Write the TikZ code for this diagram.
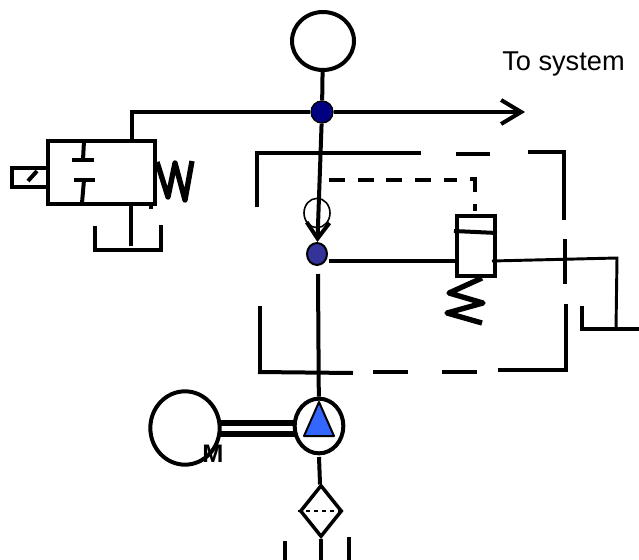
\documentclass[tikz,border=0pt]{standalone}
\usepackage{fontspec}
\setmainfont{Liberation Sans}
\usetikzlibrary{shapes.geometric, arrows.meta, positioning, calc}

\definecolor{ballblue}{HTML}{333399}
\definecolor{pumpblue}{HTML}{3366FF}
\definecolor{nodeblue}{HTML}{000080}

\tikzset{
  pipe/.style={line width=3pt, black},
  thinpipe/.style={line width=2.2pt, black},
  zigzag/.style={line width=4pt, line join=round, black},
  comp/.style={draw=black, line width=3pt, inner sep=0pt},
  round/.style={comp, ellipse},
  label/.style={inner sep=0pt}
}

\begin{document}
\begin{tikzpicture}[x=0.75pt, y=-0.75pt]
\useasboundingbox (0,0) rectangle (639,560);

% Main components
\node[round, minimum width=46.5pt, minimum height=43.5pt] (gauge) at (323,41) {};
\node[round, line width=1pt, fill=nodeblue, minimum width=16.5pt, minimum height=16.5pt] (junction) at (322,112) {};
\node[round, line width=1.2pt, minimum width=19.5pt, minimum height=22pt] (seat) at (317,213) {};
\node[round, line width=1.5pt, fill=ballblue, minimum width=15pt, minimum height=16.5pt] (ball) at (317,254) {};
\node[comp, minimum width=28.5pt, minimum height=45pt] (valve) at (476,246) {};
\node[round, minimum width=36.5pt, minimum height=41pt] (pump) at (319,426) {};
\node[round, minimum width=52pt, minimum height=55pt] (motor) at (185,428) {};
\node[comp, diamond, line width=2.6pt, minimum width=31.5pt, minimum height=39pt] (filter) at (321,511) {};
\node[comp, minimum width=80pt, minimum height=47pt] (cylinder) at (101.5,172.5) {};
\node[comp, line width=2.6pt, minimum width=27pt, minimum height=14pt] (stub) at (30,177.5) {};

% Free line ends
\coordinate (arrowend) at (525,112);
\coordinate (cylcorner) at (132,112);
\coordinate (cyltop) at (132,141);
\coordinate (cylbot) at (131,204);
\coordinate (cyltank) at (131,246);
\coordinate (ballout) at (318,274);
\coordinate (ballright) at (329,261);
\coordinate (valveout) at (492,261);
\coordinate (valvecorner) at (617,258);
\coordinate (valvetank) at (616,329);
\coordinate (pumpout) at (319,457);
\coordinate (filterout) at (321,560);

% Pressure line
\draw[pipe] (gauge) -- (junction);
\draw[pipe, -{Straight Barb[length=15pt, width=18pt]}] (junction) -- (arrowend);
\draw[pipe] (junction) -- (cylcorner) -- (cyltop);
\draw[pipe, -{Straight Barb[length=12pt, width=17pt]}] (junction) -- (ball);
\draw[pipe] (ballout) -- (pump);
\draw[pipe] (ballright) -- (ballright -| valve.west);
\draw[thinpipe] (valveout) -- (valvecorner) -- (valvetank);
\draw[pipe] (pumpout) -- (filter);
\draw[pipe] (filter) -- (filterout);

% Cylinder details
\draw[pipe] (84,141) -- (83,160);
\draw[pipe] (72,160) -- (94,160);
\draw[pipe] (74,180) -- (95,180);
\draw[pipe] (84,180) -- (82,203);
\draw[pipe] (28,181) -- (37,171);
\draw[zigzag] (157,162) -- (168,197) -- (175,163) -- (185,200) -- (192,161);
\draw[pipe] (151,204) -- (151,209);
\draw[pipe] (cylbot) -- (cyltank);
\draw[pipe] (95,226) -- (95,250) -- (161,250) -- (161,225);

% Dashed enclosure
\draw[pipe] (257,207) -- (257,153) -- (421,153);
\draw[pipe] (456,154) -- (490,154);
\draw[pipe] (528,152) -- (564,152) -- (564,220);
\draw[pipe] (565,239) -- (565,284);
\draw[pipe] (566,304) -- (566,370) -- (498,370);
\draw[pipe] (442,372) -- (477,372);
\draw[pipe] (373,372) -- (408,372);
\draw[pipe] (353,373) -- (258,372);
\draw[pipe] (260,372) -- (260,306);

% Pilot line
\draw[pipe, dash pattern=on 12pt off 9.5pt] (329,180) -- (457,180);
\draw[pipe] (470,179) -- (475,179) -- (475,192);
\draw[pipe] (475,204) -- (475,211);

% Relief valve
\draw[pipe] (454,231) -- (497,233);
\draw[zigzag] (482,278) -- (449,293) -- (483,303) -- (447,313) -- (482,323);
\draw[pipe] (582,306) -- (582,329) -- (639,329);

% Pump and motor
\draw[line width=1.5pt, fill=pumpblue, line join=round] (319,402) -- (304,436) -- (334,436) -- cycle;
\draw[line width=4pt] (220,423) -- (295,423);
\draw[line width=4pt] (220,434) -- (295,434);
\node[label, font=\bfseries\fontsize{19}{19}\selectfont] (mlabel) at (213,454) {M};

% Filter element
\draw[line width=1.2pt, dashed] (filter.west) -- (filter.east);
\draw[pipe] (285,541) -- (285,560);
\draw[pipe] (349,537) -- (349,560);

\node[label, font=\fontsize{20.4}{21}\selectfont, anchor=base west] (tosystem) at (502,70) {To system};
\end{tikzpicture}
\end{document}
